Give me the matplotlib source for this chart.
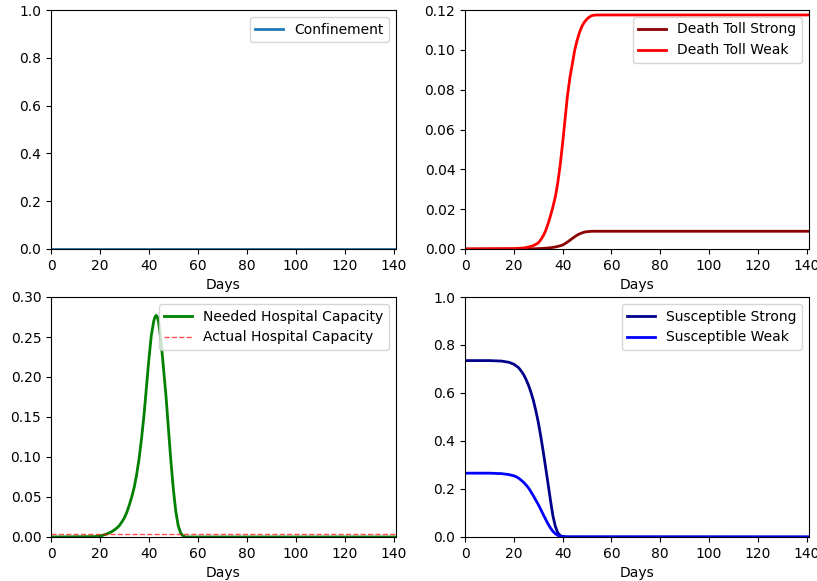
import matplotlib
matplotlib.use("Agg")
import matplotlib.pyplot as plt

# ---- data ----
conf_days = [0, 141]
confinement = [0.0, 0.0]

death_days = [0, 20, 24, 25, 26, 27, 28, 29, 30, 31, 32, 33, 34, 35, 36, 37, 38, 39, 40,
              41, 42, 43, 44, 45, 46, 47, 48, 49, 50, 51, 52, 53, 54, 141]
death_weak = [0.0, 0.0002, 0.0005, 0.0007, 0.001, 0.0013, 0.0017, 0.0023, 0.003, 0.0045,
              0.0065, 0.009, 0.0125, 0.0165, 0.021, 0.026, 0.033, 0.042, 0.053, 0.065,
              0.077, 0.086, 0.093, 0.1, 0.105, 0.109, 0.112, 0.114, 0.1155, 0.1165,
              0.1172, 0.1174, 0.1175, 0.1175]
death_strong = [0.0, 0.0, 0.00003, 0.00004, 0.00006, 0.00008, 0.0001, 0.00015, 0.0002,
                0.00025, 0.0003, 0.0004, 0.0005, 0.00065, 0.0008, 0.001, 0.0013, 0.0016,
                0.002, 0.0027, 0.0035, 0.0044, 0.0053, 0.0062, 0.007, 0.0076, 0.0081,
                0.0085, 0.0087, 0.0088, 0.0089, 0.0089, 0.0089, 0.0089]

hosp_days = [0, 18, 20, 21, 22, 23, 24, 25, 26, 27, 28, 29, 30, 31, 32, 33, 34, 35, 36,
             37, 38, 39, 40, 41, 42, 42.5, 43, 43.5, 44, 45, 46, 47, 48, 49, 50, 51, 52,
             53, 54, 55, 141]
hosp_needed = [0.0, 0.0005, 0.0012, 0.002, 0.003, 0.004, 0.0055, 0.007, 0.009, 0.0115,
               0.0145, 0.019, 0.024, 0.031, 0.04, 0.05, 0.062, 0.078, 0.098, 0.123,
               0.152, 0.187, 0.222, 0.252, 0.27, 0.275, 0.277, 0.275, 0.268, 0.244,
               0.21, 0.176, 0.135, 0.095, 0.06, 0.032, 0.014, 0.005, 0.0012, 0.0, 0.0]
cap_days = [0, 141]
hosp_capacity = [0.004, 0.004]

sus_days = [0, 10, 15, 18, 20, 21, 22, 23, 24, 25, 26, 27, 28, 29, 30, 31, 32, 33, 34,
            35, 36, 37, 38, 39, 40, 42, 141]
sus_strong = [0.735, 0.735, 0.733, 0.728, 0.72, 0.713, 0.705, 0.692, 0.677, 0.657, 0.633,
              0.604, 0.57, 0.528, 0.48, 0.423, 0.36, 0.293, 0.225, 0.155, 0.09, 0.045,
              0.018, 0.006, 0.002, 0.0005, 0.0]
sus_weak = [0.266, 0.266, 0.264, 0.26, 0.255, 0.251, 0.245, 0.237, 0.228, 0.217, 0.205,
            0.189, 0.172, 0.154, 0.136, 0.116, 0.095, 0.075, 0.055, 0.038, 0.024, 0.014,
            0.007, 0.003, 0.001, 0.0002, 0.0]

W, H = 817, 581
fig = plt.figure(figsize=(W / 100, H / 100), dpi=100)

def ax_at(x0, x1, y0, y1):
    return fig.add_axes([x0 / W, 1 - y1 / H, (x1 - x0) / W, (y1 - y0) / H])

ax1 = ax_at(51, 396, 10, 249)
ax2 = ax_at(465, 809, 10, 249)
ax3 = ax_at(51, 396, 297, 537)
ax4 = ax_at(465, 809, 297, 537)

ax1.plot(conf_days, confinement, color="C0", lw=2, label="Confinement")
ax1.set_ylim(0, 1)

ax2.plot(death_days, death_strong, color="darkred", lw=2, label="Death Toll Strong")
ax2.plot(death_days, death_weak, color="red", lw=2, label="Death Toll Weak")
ax2.set_ylim(0, 0.12)

ax3.plot(hosp_days, hosp_needed, color="green", lw=2, label="Needed Hospital Capacity")
ax3.plot(cap_days, hosp_capacity, color="red", lw=1, ls="--", alpha=0.7,
         label="Actual Hospital Capacity")
ax3.set_ylim(0, 0.30)

ax4.plot(sus_days, sus_strong, color="darkblue", lw=2, label="Susceptible Strong")
ax4.plot(sus_days, sus_weak, color="blue", lw=2, label="Susceptible Weak")
ax4.set_ylim(0, 1)

for ax in (ax1, ax2, ax3, ax4):
    ax.set_xlim(0, 141)
    ax.set_xticks([0, 20, 40, 60, 80, 100, 120, 140])
    ax.set_xlabel("Days")
    ax.legend(loc="upper right")

fig.savefig("out.png", dpi=100)
